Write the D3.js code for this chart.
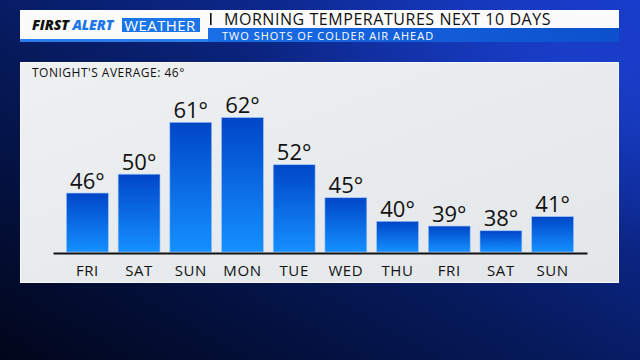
<!DOCTYPE html>
<html>
<head>
<meta charset="utf-8">
<script src="https://cdn.jsdelivr.net/npm/d3@7"></script>
<style>
  body { margin: 0; background: #020818; }
  svg { display: block; font-family: "Open Sans", Lato, sans-serif; }
</style>
</head>
<body>
<div id="chart"></div>
<script>
var days = ["FRI", "SAT", "SUN", "MON", "TUE", "WED", "THU", "FRI", "SAT", "SUN"];
var temps = [46, 50, 61, 62, 52, 45, 40, 39, 38, 41];
var title = "MORNING TEMPERATURES NEXT 10 DAYS";
var subtitle = "TWO SHOTS OF COLDER AIR AHEAD";
var note = "TONIGHT'S AVERAGE: 46°";

var w = 640, h = 360;

var svg = d3.select("#chart").append("svg")
  .attr("width", w)
  .attr("height", h);

var defs = svg.append("defs");

var bg = defs.append("linearGradient").attr("id", "bg")
  .attr("x1", "0").attr("y1", "1").attr("x2", "1").attr("y2", "0");
bg.append("stop").attr("offset", "0").attr("stop-color", "#02061a");
bg.append("stop").attr("offset", "0.45").attr("stop-color", "#061a5c");
bg.append("stop").attr("offset", "1").attr("stop-color", "#1438c4");

var glow = defs.append("radialGradient").attr("id", "glow")
  .attr("cx", "0.9").attr("cy", "0.2").attr("r", "0.5");
glow.append("stop").attr("offset", "0").attr("stop-color", "#1e44d8").attr("stop-opacity", 0.7);
glow.append("stop").attr("offset", "1").attr("stop-color", "#1e44d8").attr("stop-opacity", 0);

var barGrad = defs.append("linearGradient").attr("id", "bar")
  .attr("x1", "0").attr("y1", "0").attr("x2", "0").attr("y2", "1");
barGrad.append("stop").attr("offset", "0").attr("stop-color", "#0046c6");
barGrad.append("stop").attr("offset", "1").attr("stop-color", "#1590ff");

var panelGrad = defs.append("linearGradient").attr("id", "panel")
  .attr("x1", "0").attr("y1", "0").attr("x2", "1").attr("y2", "1");
panelGrad.append("stop").attr("offset", "0").attr("stop-color", "#eef0f1");
panelGrad.append("stop").attr("offset", "1").attr("stop-color", "#e3e7ea");

var subGrad = defs.append("linearGradient").attr("id", "sub")
  .attr("x1", "0").attr("y1", "0").attr("x2", "1").attr("y2", "0");
subGrad.append("stop").attr("offset", "0").attr("stop-color", "#1a6ee6");
subGrad.append("stop").attr("offset", "1").attr("stop-color", "#0c50cc");

svg.append("rect").attr("width", w).attr("height", h).attr("fill", "url(#bg)");
svg.append("rect").attr("width", w).attr("height", h).attr("fill", "url(#glow)");

// header
svg.append("rect").attr("x", 20).attr("y", 10).attr("width", 599).attr("height", 32).attr("fill", "#fbfbfb");
svg.append("rect").attr("x", 20).attr("y", 39).attr("width", 190).attr("height", 3).attr("fill", "#2a7de8");
svg.append("rect").attr("x", 208).attr("y", 28).attr("width", 411).attr("height", 14).attr("fill", "url(#sub)");

var brand = svg.append("text").attr("x", 32).attr("y", 30)
  .style("font-size", "14px").style("font-weight", 800).style("font-style", "italic")
  .style("letter-spacing", "-0.1px");
brand.append("tspan").attr("fill", "#111").text("FIRST ");
brand.append("tspan").attr("fill", "#1a75e8").text("ALERT");

svg.append("rect").attr("x", 122).attr("y", 18).attr("width", 78).attr("height", 14).attr("fill", "#1a75e8");
svg.append("text").attr("x", 160).attr("y", 30.5).attr("text-anchor", "middle")
  .attr("fill", "#fff").style("font-size", "15px").style("font-weight", 500)
  .style("letter-spacing", "0.4px")
  .text("WEATHER");

svg.append("rect").attr("x", 210).attr("y", 13).attr("width", 1.6).attr("height", 12).attr("fill", "#111");
svg.append("text").attr("x", 224).attr("y", 24.6).attr("fill", "#111")
  .style("font-size", "16px").style("font-weight", 500)
  .style("letter-spacing", "0.55px").text(title);
svg.append("text").attr("x", 222).attr("y", 40.2).attr("fill", "#fff")
  .style("font-size", "11px").style("font-weight", 500)
  .style("letter-spacing", "1px").text(subtitle);

// panel
svg.append("rect").attr("x", 20.5).attr("y", 62.5).attr("width", 598).attr("height", 220)
  .attr("fill", "url(#panel)").attr("stroke", "#f6f8f9").attr("stroke-width", 1);

svg.append("text").attr("x", 32).attr("y", 77).attr("fill", "#111")
  .style("font-size", "12px").style("font-weight", 500)
  .style("letter-spacing", "0.5px").text(note);

var x = d3.scaleBand()
  .domain(d3.range(days.length))
  .range([53, 587])
  .paddingInner(0.19)
  .paddingOuter(0.26);

var y = d3.scaleLinear()
  .domain([33.5, 62])
  .range([252, 117.6]);

var g = svg.append("g");

g.selectAll("rect.bar")
  .data(temps)
  .enter().append("rect")
  .attr("class", "bar")
  .attr("x", function(d, i) { return x(i); })
  .attr("y", function(d) { return y(d); })
  .attr("width", x.bandwidth())
  .attr("height", function(d) { return y.range()[0] - y(d); })
  .attr("fill", "url(#bar)")
  .attr("stroke", "#9cc2ff")
  .attr("stroke-width", 0.6);

g.selectAll("text.val")
  .data(temps)
  .enter().append("text")
  .attr("class", "val")
  .attr("x", function(d, i) { return x(i) + x.bandwidth() / 2; })
  .attr("y", function(d) { return y(d) - 4.5; })
  .attr("text-anchor", "middle")
  .attr("fill", "#111")
  .style("font-size", "22px")
  .style("font-weight", 500)
  .text(function(d) { return d + "°"; });

// baseline + day labels
var axis = d3.axisBottom(x)
  .tickSize(0)
  .tickPadding(12)
  .tickFormat(function(i) { return days[i]; });

var ax = svg.append("g").attr("transform", "translate(0,253)").call(axis);
ax.select(".domain").attr("stroke", "#111").attr("stroke-width", 2.2);
ax.selectAll("text")
  .attr("fill", "#111")
  .style("font-size", "15px")
  .style("font-weight", 500)
  .style("letter-spacing", "0.6px")
  .style("font-family", "'Open Sans', Lato, sans-serif");
</script>
</body>
</html>
